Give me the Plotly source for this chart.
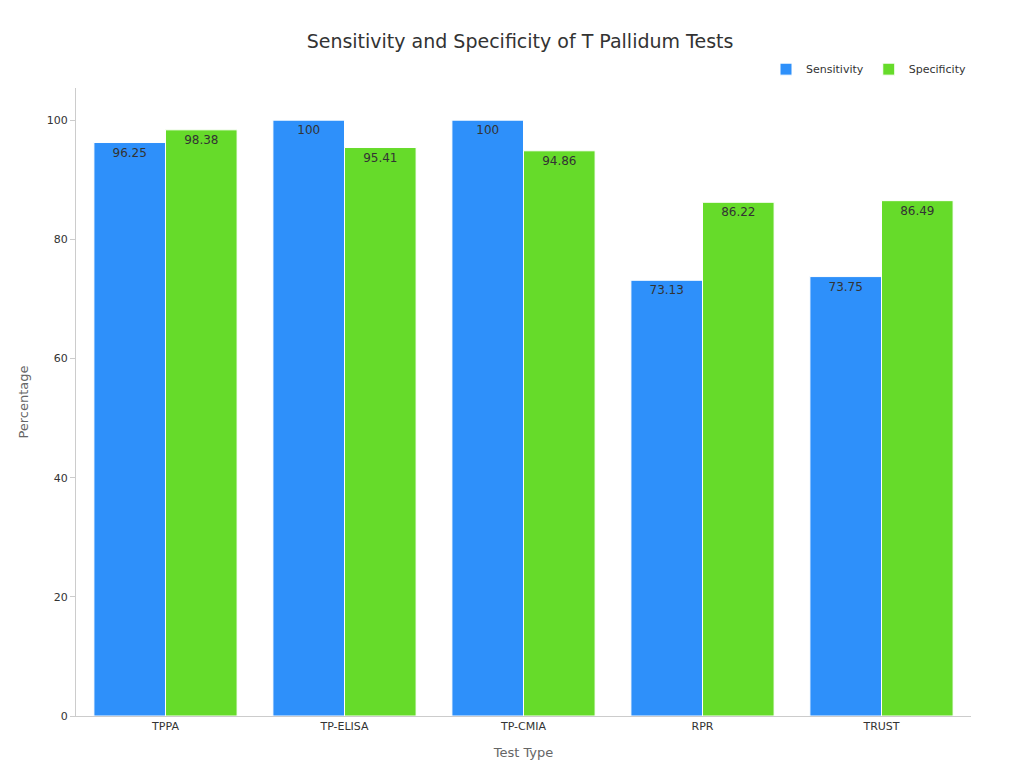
import plotly.graph_objs as go

tests = ["TPPA", "TP-ELISA", "TP-CMIA", "RPR", "TRUST"]
sensitivity = [96.25, 100, 100, 73.13, 73.75]
specificity = [98.38, 95.41, 94.86, 86.22, 86.49]

fig = go.Figure()
fig.add_trace(go.Bar(x=tests, y=sensitivity, name="Sensitivity", marker_color="#2E90FA",
                     marker_line=dict(color="white", width=1),
                     text=[str(v) for v in sensitivity], textposition="inside",
                     insidetextanchor="end", textfont=dict(color="#333", size=12)))
fig.add_trace(go.Bar(x=tests, y=specificity, name="Specificity", marker_color="#66DB2A",
                     marker_line=dict(color="white", width=1),
                     text=[str(v) for v in specificity], textposition="inside",
                     insidetextanchor="end", textfont=dict(color="#333", size=12)))

fig.update_layout(
    width=1024, height=768,
    font=dict(family="DejaVu Sans", size=11, color="#333"),
    title=dict(text="Sensitivity and Specificity of T Pallidum Tests", x=0.5, y=0.957,
               xanchor="center", yanchor="middle", font=dict(size=19, color="#333")),
    plot_bgcolor="white", paper_bgcolor="white",
    margin=dict(l=68, r=61, t=80, b=60, autoexpand=False),
    bargap=0.2, bargroupgap=0,
    legend=dict(orientation="h", x=1, xanchor="right", y=1.03, yanchor="middle",
                font=dict(size=11)),
    xaxis=dict(title=dict(text="Test Type", font=dict(color="#666", size=13)),
               showline=True, linecolor="#ccc", ticks="", showgrid=False, automargin=False),
    yaxis=dict(title=dict(text="Percentage", font=dict(color="#666", size=13)),
               range=[0, 105.4], dtick=20, showline=True, linecolor="#ccc",
               ticks="outside", ticklen=5, tickcolor="#ccc", showgrid=False,
               zeroline=False, automargin=False),
)
fig.update_traces(textangle=0, cliponaxis=False)
fig.write_html("out.html")
